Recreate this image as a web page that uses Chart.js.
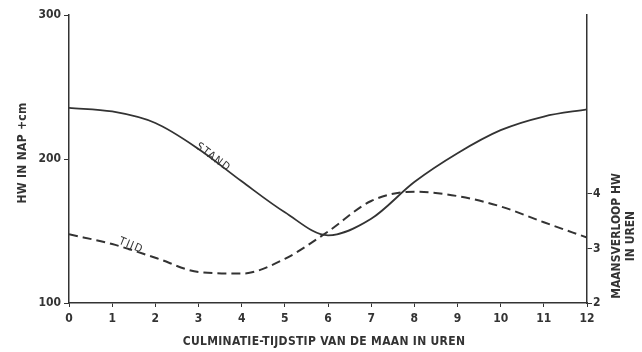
<!DOCTYPE html>
<html>
<head>
<meta charset="utf-8">
<script src="https://cdn.jsdelivr.net/npm/chart.js@4.4.1/dist/chart.umd.min.js"></script>
<style>
  html, body { margin: 0; padding: 0; background: #fff; }
  #wrap { width: 642px; height: 352px; }
</style>
</head>
<body>
<div id="wrap"><canvas id="chart" width="642" height="352"></canvas></div>
<script>
// culmination hour of the moon (0..12)
const hours = [0, 1, 2, 3, 4, 5, 6, 7, 8, 9, 10, 11, 12];
// high water level, cm above NAP (left axis)
const standValues = [235.5, 233, 225, 207, 184.5, 163, 147, 158.5, 184, 204, 220, 229.5, 234.5];
// lunitidal interval in hours (right axis)
const tijdValues = [3.26, 3.08, 2.83, 2.57, 2.54, 2.81, 3.31, 3.87, 4.04, 3.96, 3.77, 3.48, 3.2];
const rightTicks = [2, 3, 4];

const xTitle = 'CULMINATIE-TIJDSTIP VAN DE MAAN IN UREN';
const leftTitle = 'HW IN NAP +cm';
const rightTitle = ['MAANSVERLOOP HW', 'IN UREN'];

const ink = '#333';
const fam = "'DejaVu Sans Condensed', 'Liberation Sans Narrow', sans-serif";
const tickFont = { family: fam, size: 12, weight: 'bold' };

// titles and curve labels
const textPlugin = {
  id: 'texts',
  afterDraw(chart) {
    const { ctx, scales: { x, y, y1 } } = chart;
    ctx.save();
    ctx.fillStyle = ink;
    ctx.textAlign = 'center';
    ctx.textBaseline = 'middle';
    ctx.font = 'bold 12px ' + fam;
    ctx.letterSpacing = '0.3px';
    ctx.fillText(xTitle, (x.left + x.right) / 2 - 4, 342);

    ctx.save();
    ctx.translate(23, 153);
    ctx.rotate(-Math.PI / 2);
    ctx.fillText(leftTitle, 0, 0);
    ctx.restore();

    ctx.letterSpacing = '0px';
    ctx.save();
    ctx.translate(617, 236);
    ctx.rotate(-Math.PI / 2);
    ctx.fillText(rightTitle[0], 0, 0);
    ctx.fillText(rightTitle[1], 0, 14);
    ctx.restore();

    ctx.font = '11px ' + fam;
    ctx.letterSpacing = '1.5px';
    ctx.save();
    ctx.translate(x.getPixelForValue(3.34), y.getPixelForValue(201));
    ctx.rotate(37 * Math.PI / 180);
    ctx.fillText('STAND', 0, 0);
    ctx.restore();

    ctx.save();
    ctx.translate(x.getPixelForValue(1.44), y1.getPixelForValue(3.05));
    ctx.rotate(22 * Math.PI / 180);
    ctx.fillText('TIJD', 0, 0);
    ctx.restore();

    ctx.restore();
  }
};

new Chart(document.getElementById('chart'), {
  type: 'line',
  data: {
    datasets: [
      {
        label: 'STAND',
        data: hours.map((h, i) => ({ x: h, y: standValues[i] })),
        yAxisID: 'y',
        borderColor: ink,
        borderWidth: 1.8,
        pointRadius: 0,
        cubicInterpolationMode: 'monotone',
        fill: false
      },
      {
        label: 'TIJD',
        data: hours.map((h, i) => ({ x: h, y: tijdValues[i] })),
        yAxisID: 'y1',
        borderColor: ink,
        borderWidth: 2,
        borderDash: [9, 5],
        pointRadius: 0,
        cubicInterpolationMode: 'monotone',
        fill: false
      }
    ]
  },
  options: {
    responsive: false,
    animation: false,
    layout: { padding: { top: 15, left: 0, right: 0, bottom: 0 } },
    plugins: { legend: { display: false }, tooltip: { enabled: false } },
    scales: {
      x: {
        type: 'linear',
        min: 0,
        max: 12,
        ticks: { stepSize: 1, padding: 5, font: tickFont, color: ink, maxRotation: 0 },
        grid: { drawOnChartArea: false, tickLength: 4, color: ink },
        border: { color: ink, width: 1.5 },
        afterFit(s) { s.height = 49; }
      },
      y: {
        position: 'left',
        min: 100,
        max: 300,
        ticks: { stepSize: 100, padding: 3, font: tickFont, color: ink },
        grid: { drawOnChartArea: false, tickLength: 5, color: ink },
        border: { color: ink, width: 1.5 },
        afterFit(s) { s.width = 69; }
      },
      y1: {
        position: 'right',
        min: 2,
        max: 7.28,
        afterBuildTicks(s) { s.ticks = rightTicks.map(v => ({ value: v })); },
        ticks: { padding: 1, font: tickFont, color: ink },
        grid: { drawOnChartArea: false, tickLength: 5, color: ink },
        border: { color: ink, width: 1.5 },
        afterFit(s) { s.width = 55; }
      }
    }
  },
  plugins: [textPlugin]
});
</script>
</body>
</html>
